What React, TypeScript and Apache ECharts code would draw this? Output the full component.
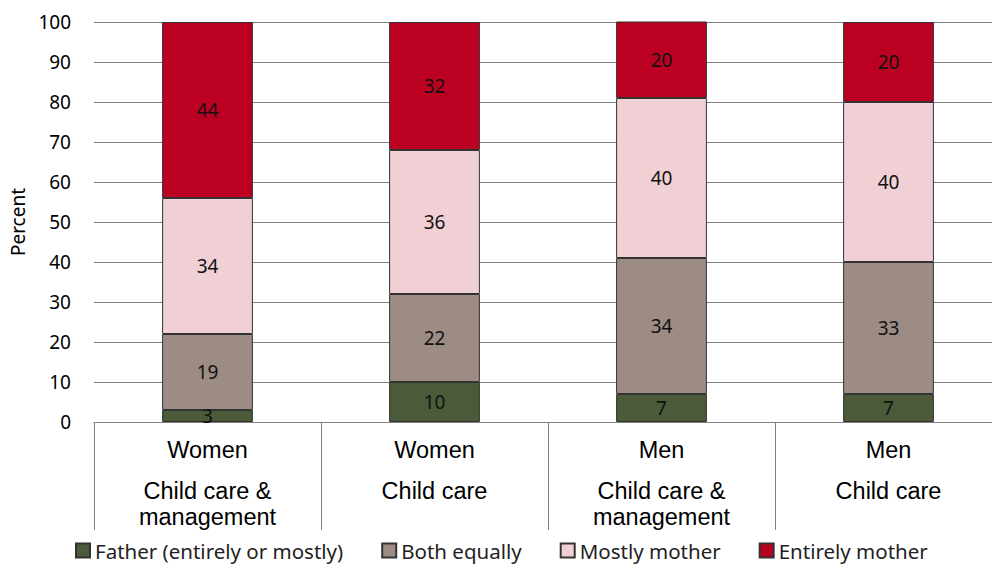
import React, { useEffect, useRef } from "react";
import * as echarts from "echarts";

const groups = ["Women", "Women", "Men", "Men"];
const activities = ["Child care &\nmanagement", "Child care", "Child care &\nmanagement", "Child care"];
const seriesNames = ["Father (entirely or mostly)", "Both equally", "Mostly mother", "Entirely mother"];
const father = [3, 10, 7, 7];
const bothEqually = [19, 22, 34, 33];
const mostlyMother = [34, 36, 40, 40];
const entirelyMother = [44, 32, 20, 20];
const colors = ["#4b5a38", "#9c8c84", "#f0d0d4", "#bb0021"];
const yTicks = { min: 0, max: 100, interval: 10 };

export default function App() {
  const ref = useRef<HTMLDivElement>(null);
  useEffect(() => {
    if (!ref.current) return;
    const chart = echarts.init(ref.current, null, { renderer: "svg" });
    const categories = groups.map((g, i) => `${g}|${activities[i]}`);
    const values = [father, bothEqually, mostlyMother, entirelyMother];
    chart.setOption({
      animation: false,
      grid: { left: 94, top: 22, right: 8, height: 400, containLabel: false },
      legend: {
        top: 535,
        left: 70,
        padding: 5,
        itemWidth: 14,
        itemHeight: 14,
        itemGap: 38,
        icon: "rect",
        textStyle: { fontFamily: "Noto Sans", fontSize: 20.5, color: "#222" },
        data: seriesNames,
      },
      xAxis: {
        type: "category",
        data: categories,
        axisLine: { lineStyle: { color: "#808080", width: 1 } },
        axisTick: { show: true, length: 108, lineStyle: { color: "#808080", width: 1 } },
        axisLabel: {
          margin: 0,
          interval: 0,
          formatter: (v: string) => {
            const [g, a] = v.split("|");
            return `{g|${g}}\n{t|${a}}`;
          },
          rich: {
            g: { fontFamily: "Liberation Sans", fontSize: 23.5, color: "#000", lineHeight: 56 },
            t: { fontFamily: "Liberation Sans", fontSize: 23.5, color: "#000", lineHeight: 26 },
          },
        },
      },
      yAxis: {
        type: "value",
        min: yTicks.min,
        max: yTicks.max,
        interval: yTicks.interval,
        name: "Percent",
        nameLocation: "middle",
        nameGap: 66,
        nameTextStyle: { fontFamily: "Noto Sans", fontSize: 19, color: "#000" },
        axisLine: { show: false },
        axisTick: { show: false },
        axisLabel: { margin: 23, fontFamily: "Noto Sans", fontSize: 19, color: "#000" },
        splitLine: { lineStyle: { color: "#808080", width: 1 } },
      },
      series: seriesNames.map((name, i) => ({
        name,
        type: "bar",
        stack: "total",
        barWidth: "40%",
        data: values[i],
        itemStyle: { color: colors[i], borderColor: "#333", borderWidth: 1 },
        label: {
          show: true,
          position: "inside",
          fontFamily: "Noto Sans",
          fontSize: 19,
          color: "#111",
        },
      })),
    });
    return () => chart.dispose();
  }, []);
  return (
    <div
      ref={ref}
      style={{ position: "fixed", left: 0, top: 0, width: 1010, height: 566, background: "#fff" }}
    />
  );
}
